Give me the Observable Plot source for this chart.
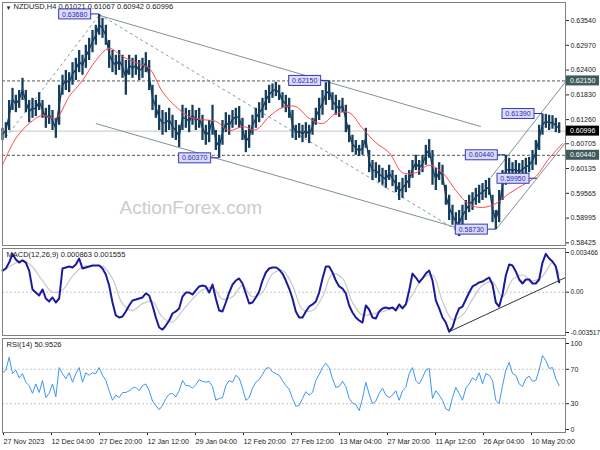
<!DOCTYPE html>
<html><head><meta charset="utf-8">
<script src="https://cdn.jsdelivr.net/npm/d3@7"></script>
<script src="https://cdn.jsdelivr.net/npm/@observablehq/plot@0.6"></script>
<style>
body{margin:0;background:#fff;}
#chart{position:relative;width:600px;height:450px;overflow:hidden;background:#fff;}
#chart svg{position:absolute;left:0;}
</style></head><body><div id="chart"></div>
<script>
// ---------- data ----------
const tickLabels = ["27 Nov 2023","12 Dec 04:00","27 Dec 20:00","12 Jan 12:00","29 Jan 04:00","12 Feb 20:00","27 Feb 12:00","13 Mar 04:00","27 Mar 20:00","11 Apr 12:00","26 Apr 04:00","10 May 20:00"];
const tickSamples = [0,14.4,28.8,43.2,57.6,72,86.4,100.8,115.2,129.6,144,158.4];
const priceTicks = [0.6354,0.6297,0.6240,0.6183,0.6126,0.60705,0.60135,0.59565,0.58995,0.58425];
const macdTicks = [0.003466,0,-0.003517];
const rsiTicks = [0,30,70,100];
const rsiLevels = [30,70];

const priceHigh = [
0.6106,0.6119,0.6170,0.6198,0.6182,0.6193,0.6221,0.6193,0.6170,0.6175,
0.6170,0.6188,0.6170,0.6152,0.6159,0.6147,0.6129,0.6205,0.6228,0.6239,
0.6234,0.6257,0.6267,0.6285,0.6274,0.6297,0.6313,0.6331,0.6343,0.6368,
0.6359,0.6343,0.6308,0.6285,0.6274,0.6285,0.6274,0.6262,0.6274,0.6267,
0.6274,0.6262,0.6267,0.6280,0.6262,0.6205,0.6182,0.6159,0.6147,0.6142,
0.6152,0.6136,0.6124,0.6113,0.6159,0.6152,0.6147,0.6159,0.6147,0.6152,
0.6136,0.6113,0.6124,0.6159,0.6101,0.6090,0.6124,0.6142,0.6136,0.6147,
0.6152,0.6156,0.6129,0.6101,0.6113,0.6136,0.6152,0.6165,0.6175,0.6193,
0.6205,0.6208,0.6212,0.6205,0.6188,0.6182,0.6175,0.6147,0.6113,0.6117,
0.6113,0.6119,0.6113,0.6129,0.6152,0.6175,0.6193,0.6211,0.6215,0.6188,
0.6182,0.6170,0.6175,0.6159,0.6113,0.6090,0.6078,0.6067,0.6078,0.6106,
0.6055,0.6032,0.6027,0.6021,0.6014,0.6009,0.6021,0.6009,0.5998,0.5981,
0.5991,0.5998,0.6009,0.6032,0.6044,0.6032,0.6044,0.6067,0.6080,0.6055,
0.6014,0.6027,0.6021,0.5975,0.5952,0.5929,0.5912,0.5917,0.5929,0.5940,
0.5952,0.5958,0.5968,0.5975,0.5979,0.5986,0.5991,0.5952,0.5917,0.5963,
0.6009,0.6044,0.6037,0.6027,0.6032,0.6025,0.6032,0.6037,0.6039,0.6055,
0.6078,0.6113,0.6139,0.6138,0.6136,0.6135,0.6129,0.6119];
const priceLow = [
0.6078,0.6083,0.6101,0.6147,0.6142,0.6152,0.6170,0.6142,0.6119,0.6129,
0.6133,0.6147,0.6129,0.6106,0.6115,0.6101,0.6083,0.6113,0.6182,0.6193,
0.6188,0.6205,0.6216,0.6234,0.6228,0.6244,0.6262,0.6280,0.6297,0.6320,
0.6313,0.6297,0.6244,0.6234,0.6228,0.6239,0.6221,0.6182,0.6228,0.6221,
0.6228,0.6216,0.6221,0.6234,0.6193,0.6147,0.6129,0.6101,0.6090,0.6096,
0.6101,0.6083,0.6078,0.6062,0.6101,0.6106,0.6096,0.6113,0.6101,0.6106,
0.6078,0.6067,0.6073,0.6090,0.6055,0.6037,0.6067,0.6096,0.6090,0.6106,
0.6113,0.6106,0.6078,0.6050,0.6060,0.6090,0.6106,0.6119,0.6129,0.6147,
0.6163,0.6175,0.6179,0.6170,0.6152,0.6142,0.6129,0.6083,0.6078,0.6083,
0.6073,0.6083,0.6071,0.6090,0.6113,0.6124,0.6136,0.6159,0.6170,0.6147,
0.6136,0.6131,0.6142,0.6096,0.6073,0.6050,0.6044,0.6041,0.6044,0.6060,
0.6004,0.5986,0.5991,0.5981,0.5975,0.5968,0.5986,0.5972,0.5958,0.5940,
0.5945,0.5958,0.5968,0.5991,0.6009,0.5998,0.6004,0.6021,0.6037,0.5975,
0.5963,0.5986,0.5975,0.5929,0.5894,0.5883,0.5870,0.5857,0.5883,0.5894,
0.5912,0.5917,0.5929,0.5933,0.5940,0.5945,0.5952,0.5889,0.5873,0.5889,
0.5940,0.5975,0.5986,0.5991,0.5991,0.5986,0.5991,0.5998,0.6004,0.6009,
0.6021,0.6055,0.6090,0.6106,0.6101,0.6104,0.6096,0.6094];
// moving average, one value every 4 samples
const maValues = [
0.6021,0.6083,0.6117,0.6136,0.6129,0.6179,0.6216,0.6262,0.6290,0.6271,
0.6257,0.6244,0.6190,0.6156,0.6133,0.6126,0.6122,0.6101,0.6110,0.6103,
0.6133,0.6154,0.6156,0.6129,0.6117,0.6140,0.6142,0.6106,0.6073,0.6050,
0.6004,0.6004,0.6021,0.6004,0.5963,0.5931,0.5924,0.5933,0.5956,0.5975,
0.5995,0.6037,0.6071];
const macdValues = [
0.00189,0.00207,0.00259,0.00335,0.00285,0.00259,0.00277,0.00259,0.00189,0.00024,
-0.00003,-0.00029,0.00024,-0.00055,-0.00081,-0.00046,-0.00090,-0.00055,0.00207,0.00216,
0.00224,0.00216,0.00242,0.00294,0.00207,0.00216,0.00224,0.00233,0.00233,0.00233,
0.00207,0.00155,0.00058,-0.00090,-0.00203,-0.00221,-0.00212,-0.00168,-0.00116,-0.00072,
-0.00064,-0.00055,-0.00046,-0.00011,-0.00029,-0.00116,-0.00221,-0.00308,-0.00326,-0.00291,
-0.00247,-0.00186,-0.00168,-0.00142,-0.00038,-0.00003,-0.00003,-0.00020,0.00015,0.00050,
0.00058,0.00050,-0.00003,0.00067,-0.00055,-0.00160,-0.00168,-0.00090,-0.00003,0.00067,
0.00102,0.00120,0.00076,-0.00011,-0.00099,-0.00090,-0.00046,0.00006,0.00102,0.00172,
0.00207,0.00216,0.00216,0.00198,0.00163,0.00102,0.00032,-0.00055,-0.00168,-0.00221,
-0.00221,-0.00168,-0.00125,-0.00107,-0.00081,-0.00003,0.00120,0.00224,0.00224,0.00172,
0.00102,0.00050,0.00032,-0.00011,-0.00116,-0.00177,-0.00221,-0.00247,-0.00265,-0.00116,
-0.00151,-0.00221,-0.00230,-0.00168,-0.00142,-0.00134,-0.00142,-0.00134,-0.00160,-0.00107,
-0.00142,-0.00107,0.00015,0.00163,0.00128,0.00085,0.00120,0.00163,0.00189,0.00102,
-0.00072,-0.00142,-0.00221,-0.00265,-0.00345,-0.00308,-0.00212,-0.00142,-0.00125,-0.00064,
-0.00003,0.00050,0.00067,0.00085,0.00093,0.00111,0.00128,0.00067,-0.00090,-0.00125,
-0.00020,0.00146,0.00242,0.00233,0.00181,0.00111,0.00076,0.00111,0.00111,0.00076,
0.00076,0.00111,0.00259,0.00335,0.00294,0.00268,0.00224,0.000863];
// signal line, one value every 3 samples
const signalValues = [
0.0018,0.0024,0.0028,0.0022,0.0010,0.0000,0.0002,0.0014,0.0022,0.0023,
0.0023,0.0012,-0.0010,-0.0016,-0.0010,-0.0008,-0.0022,-0.0026,-0.0016,-0.0006,
0.0002,0.0004,-0.0006,-0.0004,0.0006,-0.0004,0.0000,0.0016,0.0019,0.0006,
-0.0015,-0.0016,-0.0004,0.0016,0.0012,-0.0009,-0.0020,-0.0019,-0.0017,-0.0014,
-0.0013,-0.0002,0.0012,0.0015,-0.0008,-0.0024,-0.0020,-0.0006,0.0006,0.0009,
-0.0004,0.0011,0.0015,0.0010,0.0014,0.0026,0.001555];
const rsiValues = [
66,69,84,65,69,60,65,55,51,42,
53,43,57,37,42,53,38,72,65,59,
66,55,65,72,55,66,63,66,65,72,
63,57,45,34,40,37,43,43,45,48,
49,45,51,53,45,33,28,23,28,36,
41,42,38,45,57,51,51,48,52,58,
56,55,56,50,34,36,37,51,57,55,
63,60,48,34,37,48,55,58,64,71,
72,67,65,63,57,51,47,36,27,28,
36,44,40,43,57,64,72,77,72,59,
49,50,56,50,36,31,29,22,36,55,
41,30,33,42,48,40,37,40,45,34,
45,49,65,72,57,53,60,69,71,36,
45,40,34,24,22,37,49,42,34,48,
53,60,57,66,53,65,63,57,34,30,
51,69,78,65,63,53,50,59,62,56,
57,69,86,80,71,72,59,50.95];

const levelLines = [0.6215, 0.6044];
const lastPrice = 0.60996;
const priceTags = [
  {p:0.6215, label:"0.62150", bg:"#3e5a5a"},
  {p:0.60996, label:"0.60996", bg:"#000000"},
  {p:0.6044, label:"0.60440", bg:"#3e5a5a"}];
const annotations = [
  {k:29, p:0.6368, label:"0.63680"},
  {k:98, p:0.6215, label:"0.62150"},
  {k:65, p:0.6037, label:"0.60370"},
  {k:148, p:0.5873, label:"0.58730"},
  {k:151, p:0.6044, label:"0.60440"},
  {k:162, p:0.6139, label:"0.61390"},
  {k:160.5, p:0.5990, label:"0.59950"}];
const trendLines = [
  {k1:29, p1:0.6366, k2:143.5, p2:0.6110, dash:false},
  {k1:28, p1:0.6117, k2:137, p2:0.5876, dash:false},
  {k1:29, p1:0.6368, k2:137.5, p2:0.5866, dash:true},
  {k1:1, p1:0.6085, k2:29, p2:0.6366, dash:true},
  {k1:148, p1:0.5873, k2:168.9, p2:0.6073, dash:false},
  {k1:146.5, p1:0.5993, k2:168.9, p2:0.6213, dash:false}];
const macdTrend = [{k1:134, v1:-0.00345, k2:168.9, v2:0.00128}];

// ---------- build ----------
const bars = priceHigh.map((h,i)=>({k:i, hi:h, lo:priceLow[i], mid:(h+priceLow[i])/2}));
const ma = maValues.map((v,i)=>({k:i*4, v}));
const macd = macdValues.map((v,i)=>({k:i, v}));
const signal = signalValues.map((v,i)=>({k:Math.min(i*3,167), v}));
const rsi = rsiValues.map((v,i)=>({k:i, v}));
const labelMap = new Map(tickSamples.map((s,i)=>[s, tickLabels[i]]));

const FONT = "'Liberation Sans', Arial, sans-serif";
const xDomain = [0, 168.9];
const base = {width:600, marginLeft:2, marginRight:35,
  style:{fontFamily:FONT, fontSize:"7px", color:"#222", background:"transparent", overflow:"visible"}};
const frameColor = "#808080";
const barColor = "#163e5e";
const chart = document.getElementById("chart");

// main price panel
const main = Plot.plot({
  ...base, height:247, marginTop:2, marginBottom:2,
  x:{domain:xDomain, axis:null},
  y:{domain:[0.58365,0.63954]},
  marks:[
    Plot.text(["ActionForex.com"], {frameAnchor:"bottom-left", dx:117, dy:-32, textAnchor:"start", lineAnchor:"bottom", fontSize:19, fill:"#cccccc"}),
    Plot.ruleY(levelLines, {stroke:"#555", strokeDasharray:"3,2", strokeWidth:1}),
    Plot.ruleY([lastPrice], {stroke:"#c4c4c4", strokeWidth:1}),
    Plot.link(trendLines.filter(d=>!d.dash), {x1:"k1", y1:"p1", x2:"k2", y2:"p2", stroke:"#7d9393", strokeWidth:1}),
    Plot.link(trendLines.filter(d=>d.dash), {x1:"k1", y1:"p1", x2:"k2", y2:"p2", stroke:"#8a9a9a", strokeWidth:1, strokeDasharray:"3,3"}),
    Plot.ruleX(bars, {x:"k", y1:"lo", y2:"hi", stroke:barColor, strokeWidth:2.3}),
    Plot.line(bars, {x:"k", y:"mid", stroke:barColor, strokeWidth:1.4}),
    Plot.line(ma, {x:"k", y:"v", stroke:"#ff4a4a", strokeWidth:1, curve:"catmull-rom"}),
    Plot.axisY(priceTicks, {anchor:"right", tickSize:3, tickPadding:2, tickFormat:d=>d.toFixed(5), label:null, fill:"#222"}),
    Plot.text(["\u25BC"], {frameAnchor:"top-left", dx:3, dy:3, textAnchor:"start", lineAnchor:"top", fontSize:6, fill:"#222"}),
    Plot.text(["NZDUSD,H4 0.61021 0.61067 0.60942 0.60996"], {frameAnchor:"top-left", dx:11, dy:1, textAnchor:"start", lineAnchor:"top", fontSize:7.5, fill:"#222"}),
    Plot.frame({stroke:frameColor})
  ]
});
main.style.top = "0px";
chart.appendChild(main);

// MACD panel
const macdPlot = Plot.plot({
  ...base, height:91, marginTop:2, marginBottom:2,
  x:{domain:xDomain, axis:null},
  y:{domain:[-0.00378,0.003815]},
  marks:[
    Plot.ruleY([0], {stroke:"#c8c8c8", strokeDasharray:"2,2"}),
    Plot.line(signal, {x:"k", y:"v", stroke:"#c8c8c8", strokeWidth:1.2, curve:"catmull-rom"}),
    Plot.line(macd, {x:"k", y:"v", stroke:"#1a1aa0", strokeWidth:2}),
    Plot.link(macdTrend, {x1:"k1", y1:"v1", x2:"k2", y2:"v2", stroke:"#333", strokeWidth:1}),
    Plot.axisY(macdTicks, {anchor:"right", tickSize:3, tickPadding:2, tickFormat:d=> d===0 ? "0.00" : d.toFixed(6), label:null, fill:"#222", fontSize:6.6}),
    Plot.text(["MACD(12,26,9) 0.000863 0.001555"], {frameAnchor:"top-left", dx:4, dy:3, textAnchor:"start", lineAnchor:"top", fontSize:7.5, fill:"#222"}),
    Plot.frame({stroke:frameColor})
  ]
});
macdPlot.style.top = "246px";
chart.appendChild(macdPlot);

// RSI panel
const rsiPlot = Plot.plot({
  ...base, height:114, marginTop:2, marginBottom:18,
  x:{domain:xDomain},
  y:{domain:[-3.5,105.8]},
  marks:[
    Plot.ruleY(rsiLevels, {stroke:"#c8c8c8", strokeDasharray:"2,2"}),
    Plot.line(rsi, {x:"k", y:"v", stroke:"#3c96f5", strokeWidth:1}),
    Plot.axisY(rsiTicks, {anchor:"right", tickSize:3, tickPadding:2, tickFormat:d=>String(d), label:null, fill:"#222"}),
    Plot.axisX(tickSamples, {anchor:"bottom", tickSize:3, tickPadding:3, textAnchor:"start", dx:1, tickFormat:d=>labelMap.get(d), label:null, fill:"#222", fontSize:7.2}),
    Plot.text(["RSI(14) 50.9526"], {frameAnchor:"top-left", dx:4, dy:3, textAnchor:"start", lineAnchor:"top", fontSize:7.5, fill:"#222"}),
    Plot.frame({stroke:frameColor})
  ]
});
rsiPlot.style.top = "336px";
chart.appendChild(rsiPlot);

// ---------- decorations positioned through the plot scales ----------
const sx = main.scale("x"), sy = main.scale("y");
const g = d3.select(main).append("g").attr("font-family", FONT).attr("font-size", "7px");
for (const a of annotations) {
  const px = sx.apply(a.k), py = sy.apply(a.p);
  const right = px - 8, w = 32, h = 10;
  g.append("line").attr("x1", right).attr("x2", px).attr("y1", py).attr("y2", py).attr("stroke", "#2828b0");
  g.append("rect").attr("x", right - w).attr("y", py - h/2).attr("width", w).attr("height", h)
    .attr("fill", "#dcdcf8").attr("stroke", "#3a3ac0").attr("stroke-width", 1);
  g.append("text").attr("x", right - w/2).attr("y", py + 2.6).attr("text-anchor", "middle")
    .attr("fill", "#2a2ab4").text(a.label);
}
const xr = sx.range[1];
for (const t of priceTags) {
  const py = sy.apply(t.p);
  g.append("rect").attr("x", xr + 1).attr("y", py - 5).attr("width", 33).attr("height", 10).attr("fill", t.bg);
  g.append("text").attr("x", xr + 5).attr("y", py + 2.6).attr("text-anchor", "start").attr("fill", "#fff").text(t.label);
}
</script></body></html>
